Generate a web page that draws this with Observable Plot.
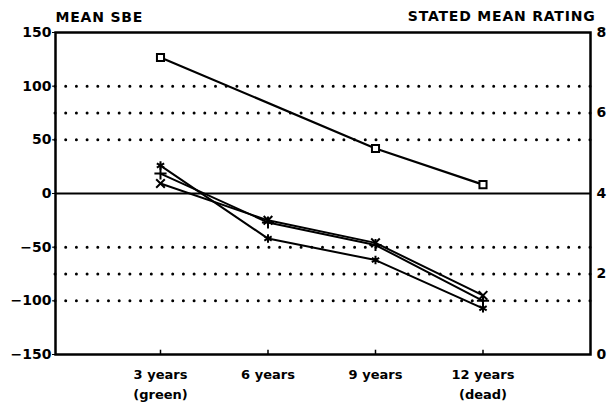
<!DOCTYPE html>
<html><head>
<meta charset="utf-8">
<script src="https://cdn.jsdelivr.net/npm/d3@7"></script>
<script src="https://cdn.jsdelivr.net/npm/@observablehq/plot@0.6"></script>
<style>
body{margin:0;background:#fff;}
#chart svg{font-family:"DejaVu Sans",sans-serif;font-weight:bold;}
#chart svg .title-label text{letter-spacing:0.8px;}
</style>
</head><body><div id="chart"></div>
<script>
const years = [3, 6, 9, 12];
const yearLabels = ["3 years\n(green)", "6 years", "9 years", "12 years\n(dead)"];
const ratingYears = [3, 9, 12];
const ratingValues = [7.38, 5.12, 4.22];
const seriesA = [26, -42, -62, -107];
const seriesB = [18.6, -27, -48, -100];
const seriesC = [9.3, -25, -46, -95];
const leftTicks = [-150, -100, -50, 0, 50, 100, 150];
const rightTicks = [0, 2, 4, 6, 8];
const gridValues = [-100, -75, -50, 50, 75, 100];

const toSbe = r => (r - 4) * 37.5;
const rating = ratingYears.map((x, i) => ({x, y: toSbe(ratingValues[i])}));
const mk = (arr, name) => years.map((x, i) => ({x, y: arr[i], s: name}));
const A = mk(seriesA, "A"), B = mk(seriesB, "B"), C = mk(seriesC, "C");

const chart = Plot.plot({
  width: 609,
  height: 409,
  marginLeft: 55,
  marginRight: 19,
  marginTop: 32,
  marginBottom: 55,
  style: {fontSize: "13px", fontFamily: "DejaVu Sans, sans-serif", fontWeight: "bold", color: "#000", background: "#fff"},
  x: {domain: [0.07, 15]},
  y: {domain: [-150, 150]},
  marks: [
    Plot.ruleY(gridValues, {stroke: "#000", strokeWidth: 3, strokeDasharray: "0,10.7", strokeLinecap: "round"}),
    Plot.ruleY([0], {stroke: "#000", strokeWidth: 2}),
    Plot.frame({stroke: "#000", strokeWidth: 2.5}),
    Plot.ruleX(years, {y1: -150, y2: -146, stroke: "#000", strokeWidth: 1.5}),
    Plot.axisY(leftTicks, {anchor: "left", tickSize: 3, tickPadding: 1, fontSize: 14, label: null}),
    Plot.axisY(rightTicks.map(toSbe), {anchor: "right", tickSize: 0, tickPadding: 6, fontSize: 14, label: null, tickFormat: d => d / 37.5 + 4}),
    Plot.axisX(years, {anchor: "bottom", tickSize: 0, tickPadding: 11, fontSize: 13, lineHeight: 1.5, label: null, tickFormat: (d, i) => yearLabels[i]}),
    Plot.line(rating, {x: "x", y: "y", stroke: "#000", strokeWidth: 2.2}),
    Plot.dot(rating, {x: "x", y: "y", symbol: "square", r: 4, stroke: "#000", strokeWidth: 2, fill: "#fff"}),
    Plot.line(A, {x: "x", y: "y", stroke: "#000", strokeWidth: 2}),
    Plot.line(B, {x: "x", y: "y", stroke: "#000", strokeWidth: 2}),
    Plot.line(C, {x: "x", y: "y", stroke: "#000", strokeWidth: 2}),
    Plot.dot(A, {x: "x", y: "y", symbol: "asterisk", r: 4, stroke: "#000", strokeWidth: 2}),
    Plot.dot(B, {x: "x", y: "y", symbol: "plus", r: 4, stroke: "#000", strokeWidth: 2}),
    Plot.dot(C, {x: "x", y: "y", symbol: "times", r: 4, stroke: "#000", strokeWidth: 2}),
    Plot.text(["MEAN SBE"], {frameAnchor: "top-left", dy: -15, dx: 0, fontSize: 14, textAnchor: "start", lineAnchor: "middle", className: "title-label"}),
    Plot.text(["STATED MEAN RATING"], {frameAnchor: "top-right", dy: -16, dx: 5, fontSize: 14, textAnchor: "end", lineAnchor: "middle", className: "title-label"})
  ]
});
document.getElementById("chart").append(chart);
</script>
</body></html>
